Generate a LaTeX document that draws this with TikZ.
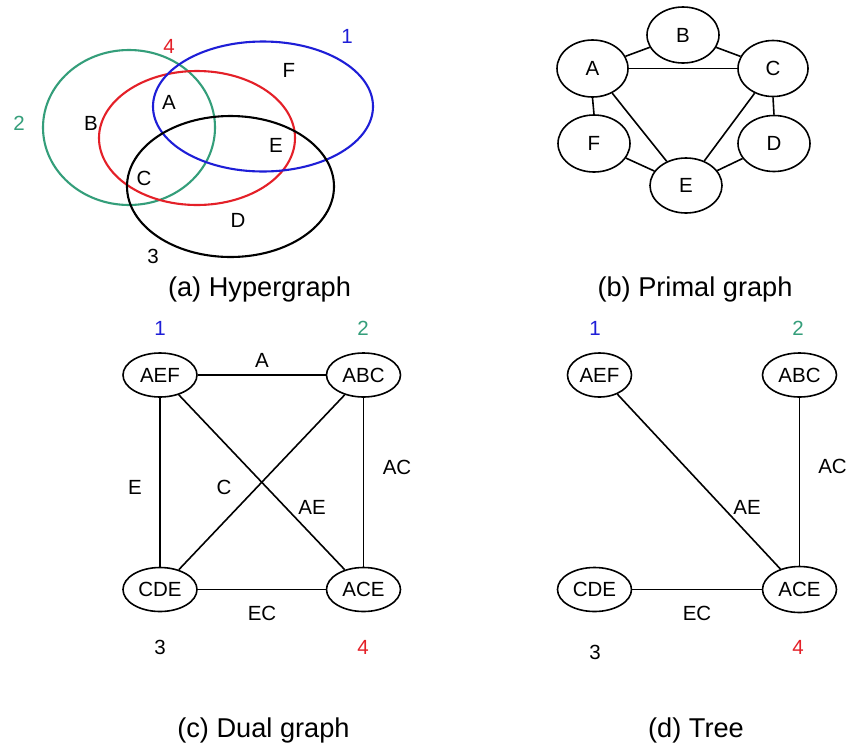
\documentclass[tikz,border=0pt]{standalone}
\usepackage{fontspec}
\setmainfont{Liberation Sans}
\usetikzlibrary{shapes.geometric}
\definecolor{hgreen}{RGB}{52,158,122}
\definecolor{hred}{RGB}{228,32,40}
\definecolor{hblue}{RGB}{30,30,215}
\begin{document}
\begin{tikzpicture}[x=1pt,y=-1pt,
  hedge/.style={line width=2.1pt},
  lbl/.style={font=\fontsize{20.5}{24}\selectfont, inner sep=0pt},
  captxt/.style={font=\fontsize{27.2}{30}\selectfont, inner sep=0pt, anchor=base},
  vx/.style={draw, ellipse, line width=1.6pt, inner sep=0pt, minimum width=72pt, minimum height=56pt, font=\fontsize{20.5}{24}\selectfont},
  dvx/.style={draw, ellipse, line width=1.6pt, inner sep=0pt, minimum width=74pt, minimum height=44pt, font=\fontsize{20.5}{24}\selectfont},
  edge/.style={line width=1.6pt}]
\useasboundingbox[fill=white] (0,0) rectangle (848,745);

% (a) Hypergraph
\draw[hedge, hgreen] (129,127.5) ellipse [x radius=86pt, y radius=77.5pt];
\draw[hedge, hred] (197,138) ellipse [x radius=98pt, y radius=67pt];
\draw[hedge, hblue] (263,106.5) ellipse [x radius=110pt, y radius=65pt];
\draw[hedge, black] (230.5,186.5) ellipse [x radius=103.5pt, y radius=70.5pt];
\node[lbl, hred] (h4) at (169,46) {4};
\node[lbl, hblue] (h1) at (347,36) {1};
\node[lbl, hgreen] (h2) at (19,123) {2};
\node[lbl] (h3) at (153,256) {3};
\node[lbl] (hA) at (169,102) {A};
\node[lbl] (hB) at (91,123) {B};
\node[lbl] (hC) at (144,178) {C};
\node[lbl] (hD) at (238,220) {D};
\node[lbl] (hE) at (276,145) {E};
\node[lbl] (hF) at (289,70) {F};
\node[captxt] (capa) at (259.5,296) {(a) Hypergraph};

% (b) Primal graph
\node[vx, minimum width=71pt, minimum height=57pt] (pA) at (592.5,68.5) {A};
\node[vx] (pB) at (683,35) {B};
\node[vx, minimum width=70pt] (pC) at (773,68.5) {C};
\node[vx, minimum height=57pt] (pF) at (594,143.5) {F};
\node[vx] (pD) at (774,143.5) {D};
\node[vx, minimum height=55pt] (pE) at (686,185.5) {E};
\draw[edge] (pA) -- (pB);
\draw[edge] (pA) -- (pC);
\draw[edge] (pA.south) -- (pF.north);
\draw[edge] (pA) -- (pE);
\draw[edge] (pB) -- (pC);
\draw[edge] (pC.south) -- (pD.north);
\draw[edge] (pC) -- (pE);
\draw[edge] (pF) -- (pE);
\draw[edge] (pD) -- (pE);
\node[captxt] (capb) at (695,296) {(b) Primal graph};

% (c) Dual graph
\node[dvx] (dAEF) at (160,375) {AEF};
\node[dvx] (dABC) at (363.5,375) {ABC};
\node[dvx] (dCDE) at (160,589.5) {CDE};
\node[dvx] (dACE) at (363.5,589.5) {ACE};
\draw[edge] (dAEF) -- (dABC);
\draw[edge] (dAEF) -- (dCDE);
\draw[edge] (dAEF) -- (dACE);
\draw[edge] (dABC) -- (dCDE);
\draw[edge] (dABC) -- (dACE);
\draw[edge] (dCDE) -- (dACE);
\node[lbl, hblue] (d1) at (160,328) {1};
\node[lbl, hgreen] (d2) at (363,328) {2};
\node[lbl] (d3) at (160,647) {3};
\node[lbl, hred] (d4) at (363,647) {4};
\node[lbl] (dlA) at (262,360) {A};
\node[lbl] (dlE) at (135,487) {E};
\node[lbl] (dlC) at (224,487) {C};
\node[lbl] (dlAE) at (312,507) {AE};
\node[lbl] (dlAC) at (397,467) {AC};
\node[lbl] (dlEC) at (262,613) {EC};
\node[captxt] (capc) at (263.5,737) {(c) Dual graph};

% (d) Tree
\node[dvx, minimum width=64pt] (tAEF) at (599.5,375) {AEF};
\node[dvx] (tABC) at (799.5,375) {ABC};
\node[dvx] (tCDE) at (594.5,589.5) {CDE};
\node[dvx, minimum height=46pt] (tACE) at (799.5,589.5) {ACE};
\draw[edge] (tAEF) -- (tACE);
\draw[edge] (tABC) -- (tACE);
\draw[edge] (tCDE) -- (tACE);
\node[lbl, hblue] (t1) at (595,328) {1};
\node[lbl, hgreen] (t2) at (798,328) {2};
\node[lbl] (t3) at (595,652) {3};
\node[lbl, hred] (t4) at (798,647) {4};
\node[lbl] (tlAE) at (747,507) {AE};
\node[lbl] (tlAC) at (832.5,466) {AC};
\node[lbl] (tlEC) at (697,613) {EC};
\node[captxt] (capd) at (696,737) {(d) Tree};
\end{tikzpicture}
\end{document}
